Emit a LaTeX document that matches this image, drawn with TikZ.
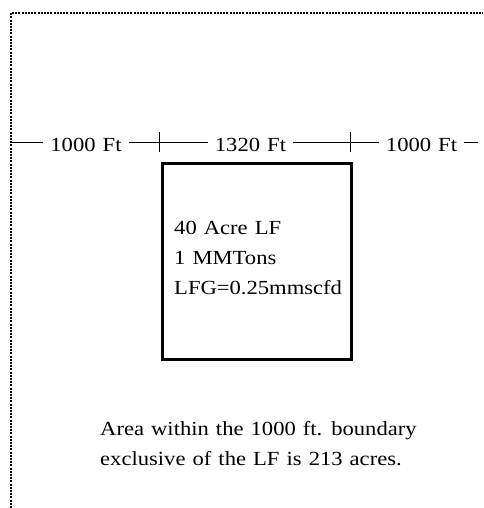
\documentclass[tikz,border=0pt]{standalone}
\usepackage{fontspec}
\setmainfont{Liberation Serif}[FakeStretch=1.13, WordSpace=1.25]
\usetikzlibrary{calc, positioning}

\begin{document}
\begin{tikzpicture}[x=1pt, y=-1pt,
  boundary/.style={line width=2.4pt, dash pattern=on 2pt off 1.2pt},
  dimline/.style={line width=1pt},
  dimlabel/.style={anchor=base, inner xsep=7pt, inner ysep=0pt,
    font=\fontsize{20}{25}\selectfont},
  lfbox/.style={draw, line width=3pt, anchor=north west, inner sep=0pt},
  note/.style={anchor=base west, inner sep=0pt, align=left,
    font=\fontsize{20}{30}\selectfont}]
\useasboundingbox (0,0) rectangle (483,508);

% 1000 ft boundary (dotted)
\coordinate (bndBot) at (11,508);
\coordinate (bndCorner) at (11,13);
\coordinate (bndRight) at (483,13);
\draw[boundary] (bndBot) -- (bndCorner) -- (bndRight);

% landfill
\node[lfbox, minimum width=188.7pt, minimum height=196.3pt] (lf) at (161,161.7) {};
% base of a multi-line node = baseline of its last line
\node[note] (lfnote) at (174,294) {40 Acre LF\\1 MMTons\\LFG=0.25mmscfd};

% dimension line
\coordinate (dimL) at (12,142);
\coordinate (tickA) at (159.5,142);
\coordinate (tickB) at (350,142);
\coordinate (dimR) at (478,142);

\node[dimlabel] (dimOne) at (86,151) {1000 Ft};
\node[dimlabel] (dimLF) at (250.5,151) {1320 Ft};
\node[dimlabel] (dimTwo) at (421.5,151) {1000 Ft};

\draw[dimline] (dimL) -- (dimL -| dimOne.west);
\draw[dimline] (dimL -| dimOne.east) -- (tickA);
\draw[dimline] (tickA) -- (tickA -| dimLF.west);
\draw[dimline] (tickA -| dimLF.east) -- (tickB);
\draw[dimline] (tickB) -- (tickB -| dimTwo.west);
\draw[dimline] (tickB -| dimTwo.east) -- (dimR);
\foreach \t in {tickA, tickB}
  \draw[dimline] ([yshift=10pt]\t) -- ([yshift=-10pt]\t);

% note below
\node[note] (area) at (100,465)
  {Area within the 1000 ft. boundary\\exclusive of the LF is 213 acres.};
\end{tikzpicture}
\end{document}
